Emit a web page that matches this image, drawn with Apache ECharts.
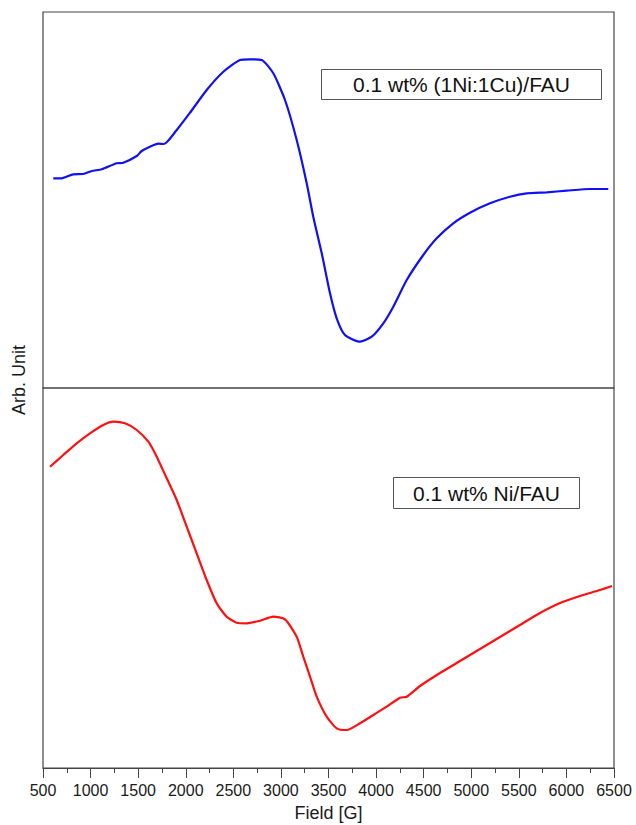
<!DOCTYPE html>
<html>
<head>
<meta charset="utf-8">
<script src="https://cdn.jsdelivr.net/npm/echarts@6/dist/echarts.min.js"></script>
<style>
  html, body { margin: 0; padding: 0; background: #fff; }
  #epr { width: 636px; height: 825px; }
</style>
</head>
<body>
<div id="epr"></div>
<script>
// field axis
var fieldMin = 500;
var fieldMax = 6500;
var fieldStep = 500;

// 0.1 wt% (1Ni:1Cu)/FAU  (arb. unit)
var nicuField = [608, 696, 818, 923, 1012, 1117, 1274, 1344, 1485, 1537, 1624, 1712, 1771, 1905, 2045, 2220, 2395, 2570, 2675, 2798, 2920, 3043, 3166, 3271, 3340, 3429, 3516, 3586, 3673, 3831, 3954, 4076, 4181, 4322, 4496, 4637, 4811, 4987, 5197, 5407, 5583, 5793, 6003, 6248, 6440];
var nicuSignal = [209.7, 209.7, 213.7, 214, 217, 218.7, 224.7, 225.3, 232, 237, 241.3, 244.3, 244, 258, 275.3, 298, 316.3, 328, 328.7, 328, 314.7, 288, 248, 204.7, 171.3, 134.7, 94.7, 69.7, 53, 46.3, 51.3, 64.7, 81.3, 108, 133, 149.7, 164.7, 175.3, 184.7, 191.3, 194.7, 195.7, 197.3, 199, 199];

// 0.1 wt% Ni/FAU  (arb. unit)
var niField = [574, 713, 854, 994, 1134, 1239, 1362, 1485, 1607, 1695, 1800, 1905, 2010, 2115, 2220, 2325, 2430, 2535, 2640, 2780, 2920, 3043, 3166, 3235, 3306, 3376, 3481, 3586, 3691, 3831, 3971, 4112, 4251, 4322, 4462, 4672, 4882, 5092, 5302, 5512, 5722, 5933, 6143, 6353, 6479];
var niSignal = [301.3, 313, 324.7, 334.7, 343, 346.3, 344.7, 338, 326.3, 311.3, 289.7, 268, 241.3, 214.7, 188, 164.7, 151.3, 145.3, 144.7, 147.3, 151.3, 148.7, 131.3, 111.3, 91.3, 71.3, 51.3, 39.7, 38, 44.7, 53, 61.3, 70.3, 71.3, 82, 95, 107, 119, 131, 143, 155, 165, 172, 178, 182];

var labelTop = "0.1 wt% (1Ni:1Cu)/FAU";
var labelBottom = "0.1 wt% Ni/FAU";

function pairs(xs, ys) {
  return xs.map(function (x, i) { return [x, ys[i]]; });
}

var chart = echarts.init(document.getElementById("epr"), null, { renderer: "svg" });

var font = "Liberation Sans, Arial, sans-serif";

var option = {
  animation: false,
  backgroundColor: "#fff",
  grid: [
    { left: 43, right: 22, top: 12, height: 376, show: true, borderColor: "#444", borderWidth: 1.2 },
    { left: 43, right: 22, top: 388, height: 380, show: true, borderColor: "#444", borderWidth: 1.2 }
  ],
  xAxis: [
    { gridIndex: 0, type: "value", min: fieldMin, max: fieldMax, show: false },
    {
      gridIndex: 1, type: "value", min: fieldMin, max: fieldMax, interval: fieldStep,
      name: "Field [G]", nameLocation: "middle", nameGap: 36,
      nameTextStyle: { fontSize: 18, color: "#1a1a1a", fontFamily: font },
      axisLine: { show: true, lineStyle: { color: "#444", width: 1.2 } },
      axisTick: { show: true, inside: false, length: 10, lineStyle: { color: "#444" } },
      minorTick: { show: true, splitNumber: 2, length: 5, lineStyle: { color: "#444" } },
      splitLine: { show: false },
      axisLabel: {
        fontSize: 16, color: "#1a1a1a", margin: 14, fontFamily: font,
        formatter: function (v) { return String(v); }
      }
    }
  ],
  yAxis: [
    { gridIndex: 0, type: "value", min: 0, max: 376, show: false },
    { gridIndex: 1, type: "value", min: 0, max: 380, show: false }
  ],
  series: [
    {
      type: "line", xAxisIndex: 0, yAxisIndex: 0,
      data: pairs(nicuField, nicuSignal),
      showSymbol: false, smooth: 0.2,
      lineStyle: { color: "#1010f5", width: 2.2 }
    },
    {
      type: "line", xAxisIndex: 1, yAxisIndex: 1,
      data: pairs(niField, niSignal),
      showSymbol: false, smooth: 0.2,
      lineStyle: { color: "#ff1010", width: 2.2 }
    }
  ],
  graphic: [
    {
      type: "text", left: 10, top: 345, rotation: Math.PI / 2,
      style: { text: "Arb. Unit", fontSize: 18, fill: "#1a1a1a", fontFamily: font }
    },
    {
      type: "group", left: 321, top: 69,
      children: [
        { type: "rect", shape: { x: 0, y: 0, width: 280, height: 30 }, style: { fill: "#fff", stroke: "#555", lineWidth: 1 } },
        { type: "text", x: 140, y: 15, style: { text: labelTop, fontSize: 21, fill: "#111", fontFamily: font, align: "center", verticalAlign: "middle" } }
      ]
    },
    {
      type: "group", left: 393, top: 477,
      children: [
        { type: "rect", shape: { x: 0, y: 0, width: 186, height: 31 }, style: { fill: "#fff", stroke: "#555", lineWidth: 1 } },
        { type: "text", x: 93, y: 15.5, style: { text: labelBottom, fontSize: 21, fill: "#111", fontFamily: font, align: "center", verticalAlign: "middle" } }
      ]
    }
  ]
};

chart.setOption(option);
</script>
</body>
</html>
